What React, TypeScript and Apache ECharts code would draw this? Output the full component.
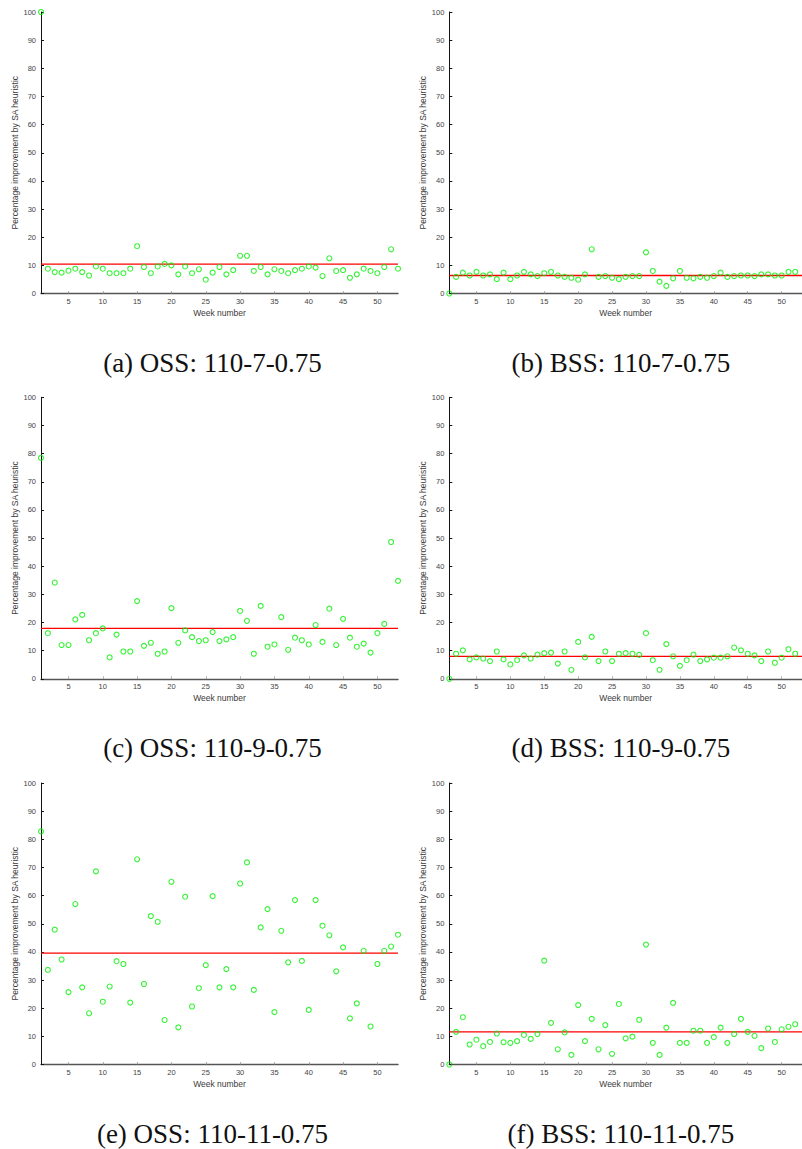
import React, { useEffect, useRef } from 'react';
import * as echarts from 'echarts';

// ---- Data ----
const ossA = [100, 8.8, 7.6, 7.4, 8.1, 8.8, 7.6, 6.4, 9.6, 8.8, 7.2, 7.2, 7.2, 8.8, 16.8, 9.4, 7.2, 9.6, 10.5, 10.0, 6.8, 9.6, 7.2, 8.6, 4.9, 7.4, 9.4, 6.8, 8.3, 13.4, 13.4, 8.0, 9.4, 6.8, 8.6, 8.0, 7.2, 8.3, 8.8, 9.6, 9.2, 6.2, 12.5, 8.0, 8.3, 5.6, 6.8, 8.8, 8.0, 7.2, 9.4, 15.7, 8.8];
const bssB = [0, 5.9, 7.4, 6.4, 7.7, 6.4, 6.8, 5.1, 7.4, 5.1, 6.4, 7.7, 6.8, 6.2, 7.2, 7.7, 6.4, 5.9, 5.6, 4.9, 6.8, 15.7, 5.9, 6.2, 5.6, 5.1, 5.9, 6.2, 6.2, 14.6, 8.0, 4.2, 2.7, 5.4, 8.0, 5.6, 5.4, 5.9, 5.6, 6.2, 7.4, 5.9, 6.2, 6.4, 6.4, 6.2, 6.8, 6.8, 6.4, 6.4, 7.7, 7.7];
const ossC = [78.5, 16.2, 34.2, 12.0, 12.0, 21.1, 22.7, 13.7, 16.2, 17.9, 7.6, 15.7, 9.7, 9.7, 27.6, 11.7, 12.8, 8.9, 9.7, 25.1, 12.8, 17.2, 14.8, 13.4, 13.7, 16.6, 13.4, 14.0, 14.8, 24.1, 20.6, 8.9, 25.9, 11.4, 12.2, 21.9, 10.3, 14.6, 13.7, 12.2, 19.1, 13.1, 24.9, 12.0, 21.3, 14.6, 11.4, 12.5, 9.3, 16.2, 19.5, 48.6, 34.8];
const bssD = [0, 8.9, 10.1, 6.9, 7.6, 7.2, 6.3, 9.7, 6.9, 5.1, 6.6, 8.3, 7.2, 8.6, 9.1, 9.3, 5.4, 9.7, 3.2, 13.1, 7.6, 14.9, 6.3, 9.7, 6.3, 8.9, 9.1, 8.9, 8.5, 16.2, 6.6, 3.2, 12.3, 8.0, 4.6, 6.6, 8.6, 6.3, 6.9, 7.5, 7.5, 8.0, 11.1, 10.1, 8.9, 8.3, 6.3, 9.7, 5.7, 7.5, 10.5, 8.9];
const ossE = [82.8, 33.6, 47.9, 37.3, 25.7, 57.0, 27.4, 18.2, 68.6, 22.3, 27.7, 36.7, 35.7, 22.0, 72.9, 28.6, 52.7, 50.7, 15.8, 64.9, 13.2, 59.6, 20.6, 27.1, 35.3, 59.8, 27.4, 33.9, 27.4, 64.3, 71.8, 26.5, 48.7, 55.2, 18.6, 47.5, 36.3, 58.4, 36.8, 19.4, 58.4, 49.3, 45.9, 33.1, 41.6, 16.4, 21.7, 40.4, 13.5, 35.7, 40.4, 41.9, 46.1];
const bssF = [0, 11.6, 16.8, 7.1, 8.8, 6.5, 8.0, 11.0, 7.9, 7.7, 8.3, 10.5, 9.1, 10.8, 36.9, 14.8, 5.4, 11.4, 3.4, 21.1, 8.3, 16.2, 5.4, 14.0, 3.8, 21.5, 9.3, 9.9, 15.9, 42.6, 7.7, 3.4, 13.1, 21.9, 7.7, 7.7, 12.0, 12.0, 7.7, 9.7, 13.1, 7.7, 10.8, 16.2, 11.6, 10.2, 5.8, 12.8, 8.0, 12.5, 13.4, 14.3];

const means = [10.4, 6.4, 17.9, 8.0, 39.6, 11.6];
const captions = [
  '(a) OSS: 110-7-0.75',
  '(b) BSS: 110-7-0.75',
  '(c) OSS: 110-9-0.75',
  '(d) BSS: 110-9-0.75',
  '(e) OSS: 110-11-0.75',
  '(f) BSS: 110-11-0.75',
];
const xTickLabels = [5, 10, 15, 20, 25, 30, 35, 40, 45, 50];
const weekMin = 1;
const weekMax = 53;
const yMin = 0;
const yMax = 100;
const yStep = 10;
const yAxisTitle = 'Percentage improvement by SA heuristic';
const xAxisTitle = 'Week number';

const panelsData = [ossA, bssB, ossC, bssD, ossE, bssF];

// ---- Layout ----
const colLeft = [41, 449.3];
const plotWidth = 357;
const rowTop = [12, 397.3, 783];
const plotHeight = 281.5;
const captionDy = 69.5;
const captionDx = -7;

export default function App() {
  const ref = useRef<HTMLDivElement>(null);

  useEffect(() => {
    if (!ref.current) return;
    const chart = echarts.init(ref.current, undefined, { renderer: 'svg' });

    const grids: any[] = [];
    const xAxes: any[] = [];
    const yAxes: any[] = [];
    const series: any[] = [];
    const graphics: any[] = [];

    panelsData.forEach((vals, i) => {
      const col = i % 2;
      const row = Math.floor(i / 2);
      const left = colLeft[col];
      const top = rowTop[row];
      grids.push({ left, top, width: plotWidth, height: plotHeight, containLabel: false });
      xAxes.push({
        type: 'value',
        gridIndex: i,
        min: weekMin,
        max: weekMax,
        name: xAxisTitle,
        nameLocation: 'middle',
        nameGap: 15,
        nameTextStyle: { fontFamily: 'Liberation Sans', fontSize: 8.5, color: '#3a3a3a' },
        axisLine: { show: true, lineStyle: { color: '#555', width: 1.4 } },
        axisTick: { show: true, inside: true, length: 2.5, lineStyle: { color: '#999', width: 0.8 }, customValues: xTickLabels },
        axisLabel: { show: true, customValues: xTickLabels, margin: 4, fontFamily: 'Liberation Sans', fontSize: 7.5, color: '#444' },
        splitLine: { show: false },
      });
      yAxes.push({
        type: 'value',
        gridIndex: i,
        min: yMin,
        max: yMax,
        interval: yStep,
        name: yAxisTitle,
        nameLocation: 'middle',
        nameGap: 20,
        nameTextStyle: { fontFamily: 'Liberation Sans', fontSize: 8.5, color: '#3a3a3a' },
        axisLine: { show: true, lineStyle: { color: '#111', width: 1 } },
        axisTick: { show: true, inside: true, length: 3, lineStyle: { color: '#111', width: 1 } },
        axisLabel: { show: true, margin: 5, fontFamily: 'Liberation Sans', fontSize: 7.5, color: '#444' },
        splitLine: { show: false },
      });
      series.push({
        type: 'line',
        xAxisIndex: i,
        yAxisIndex: i,
        data: [[weekMin, means[i]], [weekMax, means[i]]],
        symbol: 'none',
        silent: true,
        lineStyle: { color: '#ff0000', type: 'solid', width: 1.3 },
        z: 2,
      });
      series.push({
        type: 'scatter',
        xAxisIndex: i,
        yAxisIndex: i,
        data: vals.map((v, k) => [weekMin + k, v]),
        symbol: 'circle',
        symbolSize: 5,
        clip: false,
        itemStyle: { color: 'rgba(0,0,0,0)', borderColor: '#00f000', borderWidth: 1.1 },
        z: 3,
      });
      graphics.push({
        type: 'text',
        x: left + plotWidth / 2 + captionDx,
        y: top + plotHeight + captionDy,
        style: {
          text: captions[i],
          textAlign: 'center',
          textVerticalAlign: 'middle',
          font: '27px "Liberation Serif"',
          fill: '#111',
        },
      });
    });

    chart.setOption({
      animation: false,
      backgroundColor: '#ffffff',
      grid: grids,
      xAxis: xAxes,
      yAxis: yAxes,
      series,
      graphic: graphics,
    });

    return () => chart.dispose();
  }, []);

  return (
    <div
      ref={ref}
      style={{ position: 'fixed', left: 0, top: 0, width: 802, height: 1149, background: '#fff' }}
    />
  );
}
